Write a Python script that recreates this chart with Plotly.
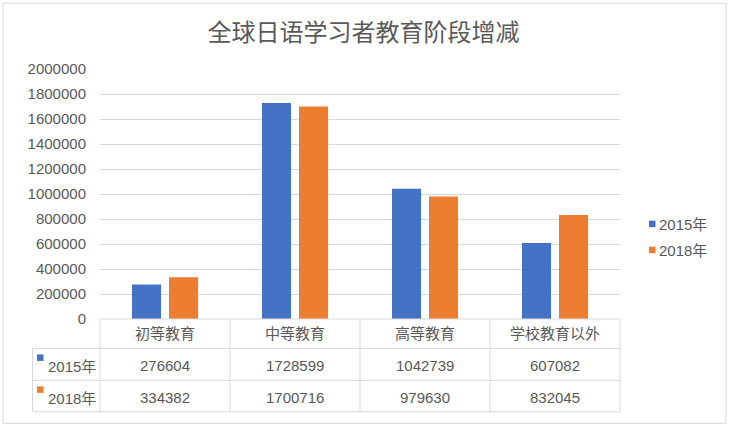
import plotly.graph_objects as go

categories = ["初等教育", "中等教育", "高等教育", "学校教育以外"]
series_names = ["2015年", "2018年"]
values_2015 = [276604, 1728599, 1042739, 607082]
values_2018 = [334382, 1700716, 979630, 832045]
colors = ["#4472C4", "#ED7D31"]
title = "全球日语学习者教育阶段增减"

W, H = 729, 427
L, R, T, B = 100, 620, 69, 319.5
FONT = "Liberation Sans, Arial, Noto Sans CJK SC, sans-serif"
GREY = "#595959"
LINE = "#D9D9D9"

def px(x):
    return (x - L) / (R - L)

def py(y):
    return (B - y) / (B - T)

fig = go.Figure()
for name, vals, c in zip(series_names, [values_2015, values_2018], colors):
    fig.add_trace(go.Bar(x=categories, y=vals, name=name, marker_color=c,
                         marker_line_width=0))

shapes = []
annotations = []
# outer border
shapes.append(dict(type="rect", xref="paper", yref="paper", x0=px(3), x1=px(726),
                   y0=py(424), y1=py(3), line=dict(color=LINE, width=1)))
# table lines
rows_y = [319.5, 349, 381, 412.5]
col_x = [100 + i * 130 for i in range(len(categories) + 1)]
left_x = 32.5
shapes.append(dict(type="line", xref="paper", yref="paper", x0=px(100), x1=px(620),
                   y0=py(rows_y[0]), y1=py(rows_y[0]), line=dict(color=LINE, width=1)))
for yy in rows_y[1:]:
    shapes.append(dict(type="line", xref="paper", yref="paper", x0=px(left_x), x1=px(620),
                       y0=py(yy), y1=py(yy), line=dict(color=LINE, width=1)))
for xx in col_x:
    shapes.append(dict(type="line", xref="paper", yref="paper", x0=px(xx), x1=px(xx),
                       y0=py(rows_y[0]), y1=py(rows_y[-1]), line=dict(color=LINE, width=1)))
shapes.append(dict(type="line", xref="paper", yref="paper", x0=px(left_x), x1=px(left_x),
                   y0=py(rows_y[1]), y1=py(rows_y[-1]), line=dict(color=LINE, width=1)))

# header
for i, cat in enumerate(categories):
    cx = (col_x[i] + col_x[i + 1]) / 2
    annotations.append(dict(x=px(cx), y=py((rows_y[0] + rows_y[1]) / 2), xref="paper", yref="paper",
                            text=cat, showarrow=False, font=dict(size=15, color=GREY, family=FONT),
                            xanchor="center", yanchor="middle"))
# data rows
for r, (name, vals, c) in enumerate(zip(series_names, [values_2015, values_2018], colors)):
    ymid = (rows_y[r + 1] + rows_y[r + 2]) / 2
    for i, v in enumerate(vals):
        cx = (col_x[i] + col_x[i + 1]) / 2
        annotations.append(dict(x=px(cx), y=py(ymid + 1), xref="paper", yref="paper",
                                text=str(v), showarrow=False,
                                font=dict(size=15, color=GREY, family=FONT),
                                xanchor="center", yanchor="middle"))
    # legend key in table
    shapes.append(dict(type="rect", xref="paper", yref="paper", x0=px(37), x1=px(43.5),
                       y0=py(rows_y[r + 1] + 12.5), y1=py(rows_y[r + 1] + 6),
                       fillcolor=c, line=dict(width=0)))
    annotations.append(dict(x=px(46), y=py(ymid + 2), xref="paper", yref="paper",
                            text=name, showarrow=False, font=dict(size=15, color=GREY, family=FONT),
                            xanchor="left", yanchor="middle"))

    # right-side legend (Excel style small square keys)
    ly = 224 + r * 26
    shapes.append(dict(type="rect", xref="paper", yref="paper", x0=px(649), x1=px(655.5),
                       y0=py(ly + 3.5), y1=py(ly - 3),
                       fillcolor=c, line=dict(width=0)))
    annotations.append(dict(x=px(657), y=py(ly + 1), xref="paper", yref="paper",
                            text=name, showarrow=False, font=dict(size=15, color=GREY, family=FONT),
                            xanchor="left", yanchor="middle"))

fig.update_layout(
    width=W, height=H,
    margin=dict(l=L, r=W - R, t=T, b=H - B, pad=0, autoexpand=False),
    paper_bgcolor="white", plot_bgcolor="white",
    title=dict(text=title, x=(363.5 - L) / (R - L), xref="paper", xanchor="center",
               y=1 - 33 / H, yanchor="middle",
               font=dict(size=24, color=GREY, family=FONT)),
    barmode="group", bargap=0.43, bargroupgap=0.216,
    showlegend=False,
    xaxis=dict(showticklabels=False, showgrid=False, zeroline=False, showline=False, ticks=""),
    yaxis=dict(range=[0, 2000000], dtick=200000, tickformat="d", showgrid=True, gridcolor=LINE,
               gridwidth=1, zeroline=False, showline=False, ticks="",
               tickfont=dict(size=15, color=GREY, family=FONT), ticklabelstandoff=13),
    shapes=shapes, annotations=annotations,
)
fig.write_html("out.html")
